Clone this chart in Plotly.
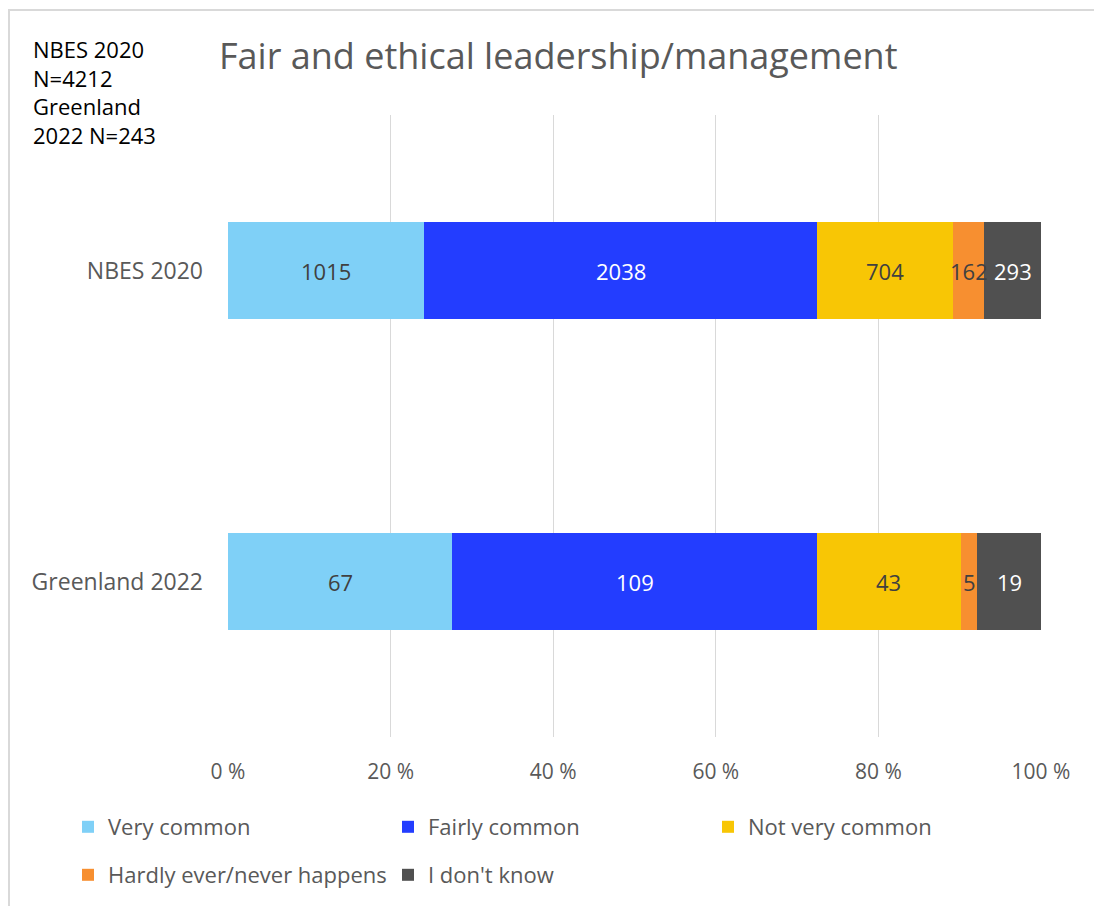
import plotly.graph_objects as go

# Survey responses per group (counts); bars are normalised to 100 %
groups = ["NBES 2020", "Greenland 2022"]
categories = ["Very common", "Fairly common", "Not very common",
              "Hardly ever/never happens", "I don't know"]
nbes_2020 = [1015, 2038, 704, 162, 293]
greenland_2022 = [67, 109, 43, 5, 19]
tick_values = [0, 20, 40, 60, 80, 100]
tick_labels = ["0 %", "20 %", "40 %", "60 %", "80 %", "100 %"]

colors = ["#7FD0F7", "#233DFF", "#F8C605", "#F78F30", "#505050"]
label_colors = ["#404040", "#FFFFFF", "#404040", "#404040", "#FFFFFF"]

FONT = "Open Sans"
W, H = 1094, 906

series = {"NBES 2020": nbes_2020, "Greenland 2022": greenland_2022}

# Legend grid: three columns, two rows (pixel positions of each entry)
legend_slots = [(68, 827), (388, 827), (708, 827), (68, 875), (388, 875)]
legend_ids = ["legend", "legend2", "legend3", "legend4", "legend5"]

fig = go.Figure()
for i, cat in enumerate(categories):
    vals = [series[g][i] for g in groups]
    fig.add_trace(go.Bar(
        name=cat,
        y=groups,
        x=vals,
        orientation="h",
        marker=dict(color=colors[i], line=dict(width=0)),
        hoverinfo="name+x",
        legend=legend_ids[i],
    ))

# Count labels centred in each segment (positions from the normalised data)
for g in groups:
    vals = series[g]
    total = sum(vals)
    left = 0.0
    for i, v in enumerate(vals):
        pct = v / total * 100
        fig.add_annotation(
            x=left + pct / 2, y=g, xref="x", yref="y",
            text=str(v), showarrow=False,
            xanchor="center", yanchor="middle",
            font=dict(family=FONT, size=22, color=label_colors[i]),
        )
        left += pct

legend_layouts = {}
for lid, (lx, ly) in zip(legend_ids, legend_slots):
    legend_layouts[lid] = dict(
        orientation="h",
        xref="container", yref="container",
        x=lx / W, y=1 - ly / H,
        xanchor="left", yanchor="middle",
        itemwidth=30,
        font=dict(family=FONT, size=22, color="#595959"),
        bgcolor="rgba(0,0,0,0)",
    )

fig.update_layout(
    width=W,
    height=H,
    barmode="stack",
    barnorm="percent",
    bargap=0.685,
    paper_bgcolor="white",
    plot_bgcolor="white",
    margin=dict(l=228, r=53, t=115, b=169, autoexpand=False),
    font=dict(family=FONT, color="#595959"),
    title=dict(
        text="Fair and ethical leadership/management",
        x=219 / W, xanchor="left",
        y=1 - 56 / H, yanchor="middle",
        font=dict(family=FONT, size=36, color="#595959"),
    ),
    xaxis=dict(
        range=[0, 100],
        tickvals=tick_values,
        ticktext=tick_labels,
        showgrid=True,
        gridcolor="#D9D9D9",
        gridwidth=1,
        zeroline=False,
        showline=False,
        ticks="",
        tickfont=dict(family=FONT, size=21, color="#595959"),
        ticklabelstandoff=20,
    ),
    yaxis=dict(
        categoryorder="array",
        categoryarray=groups[::-1],
        showgrid=False,
        zeroline=False,
        showline=False,
        ticks="",
        ticklabelstandoff=24,
        tickfont=dict(family=FONT, size=23, color="#595959"),
    ),
    showlegend=True,
    **legend_layouts,
)

# Sample size note in the top-left corner
fig.add_annotation(
    text="NBES 2020<br>N=4212<br>Greenland<br>2022 N=243",
    xref="paper", yref="paper",
    x=(31 - 228) / 813, xanchor="left",
    y=(737 - 32) / 622, yanchor="top",
    align="left",
    showarrow=False,
    font=dict(family=FONT, size=22, color="#000000"),
)

# Light chart-area border along the top and left edges
fig.add_shape(
    type="rect", xref="paper", yref="paper",
    x0=(9 - 228) / 813, x1=(1110 - 228) / 813,
    y0=(737 - 920) / 622, y1=(737 - 10) / 622,
    line=dict(color="#D9D9D9", width=2),
    fillcolor="rgba(0,0,0,0)",
    layer="below",
)

fig.write_html("out.html")
